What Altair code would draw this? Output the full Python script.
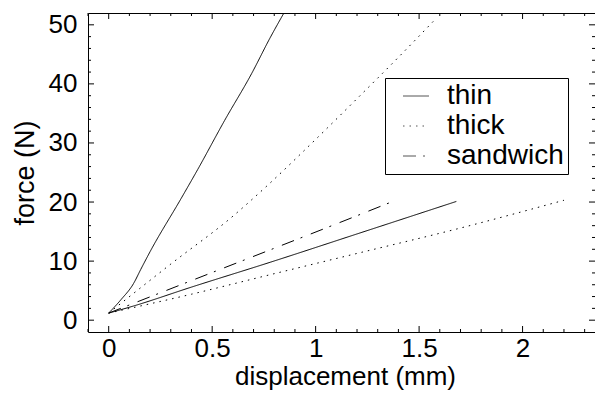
import altair as alt
import pandas as pd

# ---- data ----
thin_steep_x = [0, 0.06, 0.12, 0.155, 0.2, 0.35, 0.43, 0.56, 0.69, 0.78, 0.85]
thin_steep_y = [1.2, 3.5, 6.2, 8.6, 11.6, 20.6, 25.5, 33.8, 41.7, 47.8, 52.2]

thick_steep_x = [0, 0.3, 0.6, 0.77, 1.0, 1.2, 1.4, 1.58]
thick_steep_y = [1.2, 9.5, 17.6, 22.9, 30.6, 37.5, 44.5, 51.0]

thin_flat_x = [0, 0.12, 0.4, 0.78, 1.2, 1.68]
thin_flat_y = [1.2, 2.4, 5.6, 9.8, 14.6, 20.1]

thick_flat_x = [0, 0.4, 0.78, 1.2, 1.7, 2.2]
thick_flat_y = [1.2, 4.4, 7.7, 11.3, 15.6, 20.3]

sandwich_x = [0, 0.4, 0.78, 1.1, 1.38]
sandwich_y = [1.2, 6.7, 11.9, 16.3, 20.2]

categories = ["thin", "thick", "sandwich"]

x_major = [0, 0.5, 1, 1.5, 2]
x_minor = [-0.1, 0.1, 0.2, 0.3, 0.4, 0.6, 0.7, 0.8, 0.9, 1.1, 1.2, 1.3, 1.4,
           1.6, 1.7, 1.8, 1.9, 2.1, 2.2, 2.3]
y_major = [0, 10, 20, 30, 40, 50]
y_minor = [2, 4, 6, 8, 12, 14, 16, 18, 22, 24, 26, 28, 32, 34, 36, 38,
           42, 44, 46, 48]

W, H = 507, 319
FONT = "Liberation Sans"

rows = []
for sid, typ, xs, ys in [
    ("thin_steep", "thin", thin_steep_x, thin_steep_y),
    ("thick_steep", "thick", thick_steep_x, thick_steep_y),
    ("thin_flat", "thin", thin_flat_x, thin_flat_y),
    ("thick_flat", "thick", thick_flat_x, thick_flat_y),
    ("sandwich", "sandwich", sandwich_x, sandwich_y),
]:
    for i, (a, b) in enumerate(zip(xs, ys)):
        rows.append({"series": sid, "type": typ, "i": i, "disp": a, "force": b})
df = pd.DataFrame(rows)

xscale = alt.Scale(domain=[-0.1, 2.35], nice=False, zero=False)
yscale = alt.Scale(domain=[-2, 52], nice=False, zero=False)

xaxis = alt.Axis(values=x_major, format="~g", title="displacement (mm)",
                 ticks=False, tickSize=0, domain=False, grid=False,
                 labelFontSize=26, labelFont=FONT, labelColor="black",
                 labelPadding=3,
                 titleFontSize=26, titleFont=FONT, titleFontWeight="normal",
                 titleColor="black", titleX=(W + 7) / 2, titleY=52,
                 titleAlign="center", titleBaseline="alphabetic")
yaxis = alt.Axis(values=y_major, format="d", title="force (N)",
                 ticks=False, tickSize=0, domain=False, grid=False,
                 labelFontSize=26, labelFont=FONT, labelColor="black",
                 labelPadding=11,
                 titleFontSize=27, titleFont=FONT, titleFontWeight="normal",
                 titleColor="black", titleAngle=270, titleX=-55,
                 titleY=H / 2, titleAlign="center",
                 titleBaseline="alphabetic")

lines = alt.Chart(df).mark_line(color="black", strokeWidth=1, clip=True,
                                interpolate="monotone").encode(
    x=alt.X("disp:Q", scale=xscale, axis=xaxis),
    y=alt.Y("force:Q", scale=yscale, axis=yaxis),
    detail="series:N",
    order="i:Q",
    strokeDash=alt.StrokeDash(
        "type:N",
        scale=alt.Scale(domain=categories,
                        range=[[1, 0], [1.5, 5], [13, 7, 2, 9]]),
        legend=alt.Legend(title=None, orient="none", legendX=297, legendY=65,
                          strokeColor="black", padding=4, symbolType="stroke",
                          symbolSize=676, symbolStrokeWidth=1,
                          symbolStrokeColor="#555", symbolOffset=13,
                          labelOffset=17, labelFontSize=28, labelFont=FONT,
                          labelColor="black", rowPadding=2),
    ),
)

def xticks(vals, y0, y1):
    return alt.Chart(pd.DataFrame({"disp": vals})).mark_rule(
        color="black", strokeWidth=1).encode(
        x=alt.X("disp:Q", scale=xscale, axis=xaxis),
        y=alt.value(y0), y2=alt.value(y1))

def yticks(vals, x0, x1):
    return alt.Chart(pd.DataFrame({"force": vals})).mark_rule(
        color="black", strokeWidth=1).encode(
        y=alt.Y("force:Q", scale=yscale, axis=yaxis),
        x=alt.value(x0), x2=alt.value(x1))

tick_layers = [
    xticks(x_major, H, H - 6), xticks(x_minor, H, H - 3),
    xticks(x_major, 0, 6), xticks(x_minor, 0, 3),
    yticks(y_major, 0, 6), yticks(y_minor, 0, 3),
    yticks(y_major, W, W - 6), yticks(y_minor, W, W - 3),
]

chart = alt.layer(lines, *tick_layers).properties(
    width=W, height=H,
    autosize=alt.AutoSizeParams(type="none"),
    padding={"left": 80, "top": 5, "right": 0, "bottom": 58},
).configure(background="white",
            view=alt.ViewConfig(stroke="black", strokeWidth=1))

chart.save("out.html", embed_options={"renderer": "svg", "actions": False})
